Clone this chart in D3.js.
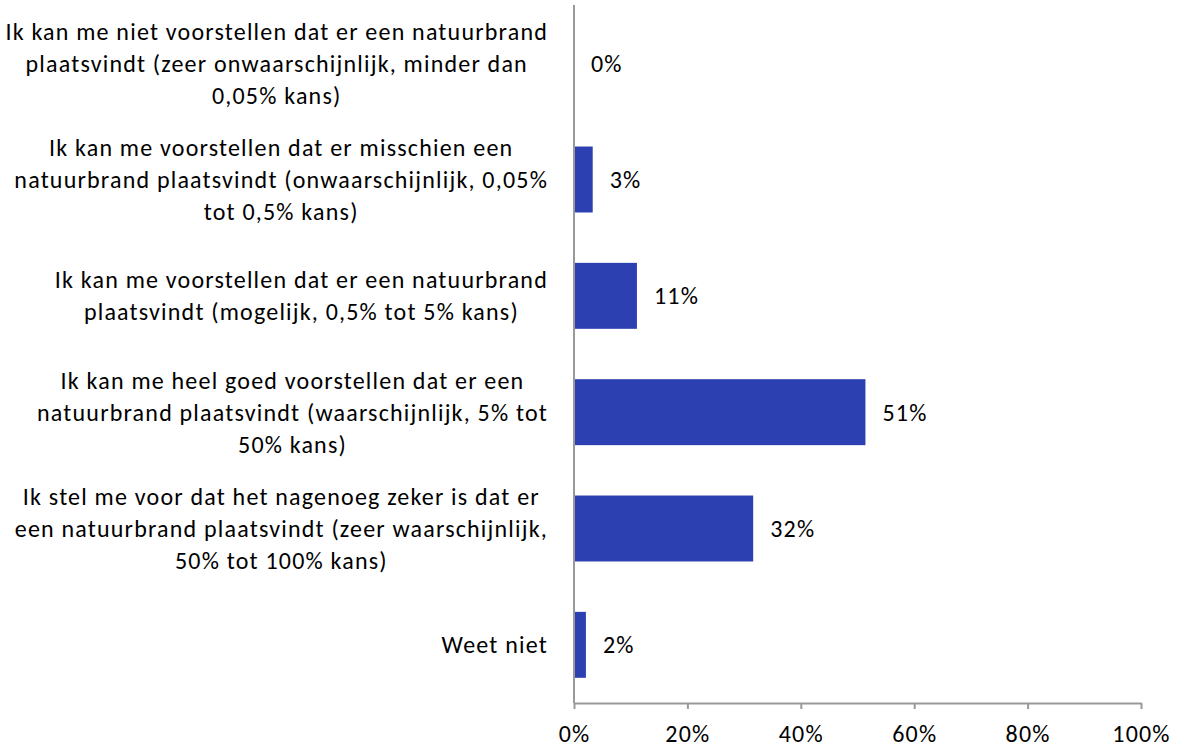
<!DOCTYPE html>
<html lang="nl">
<head>
<meta charset="UTF-8">
<title>Natuurbrand</title>
<script src="https://d3js.org/d3.v7.min.js"></script>
<style>
  body { margin: 0; background: #fff; }
  svg text { font-family: Carlito, Calibri, Lato, sans-serif; fill: #000; letter-spacing: 1.2px; }
</style>
</head>
<body>
<svg id="chart"></svg>
<script>
// categories (line breaks as in the original chart)
var categories = [
  "Ik kan me niet voorstellen dat er een natuurbrand\nplaatsvindt (zeer onwaarschijnlijk, minder dan\n0,05% kans)",
  "Ik kan me voorstellen dat er misschien een\nnatuurbrand plaatsvindt (onwaarschijnlijk, 0,05%\ntot 0,5% kans)",
  "Ik kan me voorstellen dat er een natuurbrand\nplaatsvindt (mogelijk, 0,5% tot 5% kans)",
  "Ik kan me heel goed voorstellen dat er een\nnatuurbrand plaatsvindt (waarschijnlijk, 5% tot\n50% kans)",
  "Ik stel me voor dat het nagenoeg zeker is dat er\neen natuurbrand plaatsvindt (zeer waarschijnlijk,\n50% tot 100% kans)",
  "Weet niet"
];
var values = [0, 3.3, 11.1, 51.4, 31.6, 2.1];
var xTicks = [0, 20, 40, 60, 80, 100];

var W = 1178, H = 749;
var fontSize = 24;

var svg = d3.select("#chart").attr("width", W).attr("height", H);

var x = d3.scaleLinear().domain([0, 100]).range([574, 1141]);
var y = d3.scaleBand().domain(d3.range(categories.length)).range([5, 703]).paddingInner(0.433).paddingOuter(0.2165);

// bars
svg.selectAll(".bar")
    .data(values)
  .enter().append("rect")
    .attr("class", "bar")
    .attr("x", x(0))
    .attr("y", function (d, i) { return y(i); })
    .attr("width", function (d) { return x(d) - x(0); })
    .attr("height", y.bandwidth())
    .attr("fill", "#2c40b1");

// value labels
svg.selectAll(".val")
    .data(values)
  .enter().append("text")
    .attr("class", "val")
    .attr("x", function (d) { return x(d) + 17; })
    .attr("y", function (d, i) { return y(i) + y.bandwidth() / 2; })
    .attr("dy", "0.35em")
    .style("font-size", fontSize + "px")
    .text(function (d) { return Math.round(d) + "%"; });

// y axis line
svg.append("line")
    .attr("x1", x(0)).attr("x2", x(0))
    .attr("y1", 5).attr("y2", 703)
    .attr("stroke", "#999").attr("stroke-width", 2);

// x axis
var xAxis = svg.append("g")
    .attr("transform", "translate(0,703)")
    .call(d3.axisBottom(x).tickValues(xTicks).tickSize(6).tickSizeOuter(0)
      .tickFormat(function (d) { return d + "%"; }));
xAxis.select(".domain").attr("stroke", "#999").attr("stroke-width", 2);
xAxis.selectAll(".tick line").attr("stroke", "#999").attr("stroke-width", 2);
xAxis.selectAll(".tick text")
    .attr("y", 31).attr("dy", "0.35em")
    .style("font-size", fontSize + "px")
    .attr("fill", "#000");

// category labels: centred block, right edge at 548
var lineH = 32;
categories.forEach(function (c, i) {
  var lines = c.split("\n");
  var g = svg.append("g");
  var cy = y(i) + y.bandwidth() / 2;
  var t = g.selectAll("text")
      .data(lines)
    .enter().append("text")
      .attr("y", function (d, j) { return cy + (j - (lines.length - 1) / 2) * lineH; })
      .attr("dy", "0.35em")
      .attr("text-anchor", "middle")
      .style("font-size", fontSize + "px")
      .text(function (d) { return d; });
  var maxW = d3.max(t.nodes(), function (n) { return n.getComputedTextLength(); });
  t.attr("x", 548 - maxW / 2);
});
</script>
</body>
</html>
